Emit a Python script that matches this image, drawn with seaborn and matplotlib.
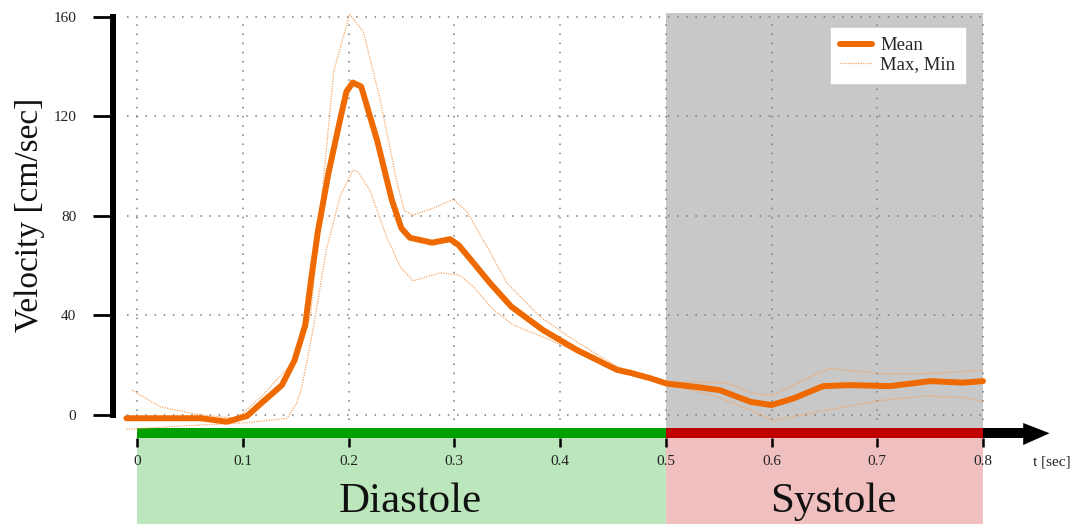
import matplotlib
matplotlib.use("Agg")
import matplotlib.pyplot as plt
import seaborn as sns

sns.set_style("white")
plt.rcParams["font.family"] = ["Liberation Serif", "DejaVu Serif"]

# ---- data -------------------------------------------------------------
t_mean = [-0.01, 0.06, 0.085, 0.104, 0.119, 0.137, 0.149, 0.159, 0.165, 0.171,
          0.181, 0.192, 0.198, 0.204, 0.212, 0.227, 0.241, 0.250, 0.258, 0.279,
          0.296, 0.304, 0.316, 0.334, 0.354, 0.384, 0.416, 0.454, 0.466, 0.485,
          0.501, 0.532, 0.551, 0.580, 0.600, 0.621, 0.649, 0.674, 0.712, 0.750,
          0.781, 0.800]
v_mean = [-1.3, -1.3, -2.7, -0.4, 5.3, 12.0, 22.0, 36.0, 55.5, 73.6,
          97.0, 118.5, 129.8, 133.5, 131.9, 110.4, 86.3, 75.0, 71.2, 69.2,
          70.6, 68.3, 62.2, 52.9, 43.5, 34.1, 26.1, 18.1, 17.0, 14.8,
          12.6, 11.1, 10.0, 5.3, 4.0, 6.7, 11.6, 12.0, 11.6, 13.6,
          13.0, 13.6]

t_max = [-0.005, 0.022, 0.06, 0.094, 0.10, 0.119, 0.151, 0.164, 0.173, 0.186,
         0.201, 0.214, 0.230, 0.246, 0.253, 0.261, 0.280, 0.299, 0.312, 0.331,
         0.350, 0.381, 0.413, 0.454, 0.501, 0.558, 0.580, 0.600, 0.627, 0.655,
         0.706, 0.753, 0.800]
v_max = [10.0, 3.3, 0.0, -1.3, 0.7, 8.0, 22.8, 39.5, 79.6, 137.9,
         161.0, 154.0, 126.5, 93.0, 82.0, 80.3, 83.0, 86.6, 81.7, 67.6,
         52.9, 39.5, 30.1, 19.4, 13.2, 13.0, 9.0, 7.8, 13.4, 18.7,
         16.5, 16.7, 18.0]

t_min = [-0.01, 0.06, 0.104, 0.142, 0.151, 0.156, 0.167, 0.179, 0.192, 0.204,
         0.209, 0.220, 0.236, 0.249, 0.261, 0.287, 0.305, 0.318, 0.337, 0.356,
         0.391, 0.425, 0.460, 0.501, 0.548, 0.580, 0.602, 0.643, 0.706, 0.744,
         0.781, 0.800]
v_min = [-5.7, -4.0, -3.1, -1.3, 4.7, 11.4, 35.5, 66.3, 87.7, 98.4,
         97.7, 90.4, 71.6, 59.5, 53.9, 57.1, 56.2, 51.5, 42.2, 36.1,
         30.1, 23.4, 16.7, 12.5, 7.4, 2.0, -2.3, 1.3, 6.0, 7.6,
         7.1, 5.3]

x_ticks = [0, 0.1, 0.2, 0.3, 0.4, 0.5, 0.6, 0.7, 0.8]
x_tick_labels = ["0", "0.1", "0.2", "0.3", "0.4", "0.5", "0.6", "0.7", "0.8"]
y_ticks = [0, 40, 80, 120, 160]

phase_names = ["Diastole", "Systole"]
phase_start = [0.0, 0.5]
phase_end = [0.5, 0.8]

# ---- styling ----------------------------------------------------------
ORANGE = "#ee6a00"
ORANGE_LIGHT = "#f5a565"
GRID = "#7a7a7a"
BAR_COLORS = ["#00a000", "#c00000"]
BAND_COLORS = ["#bce6bc", "#f0c0c0"]
SHADE = "#c8c8c8"

W, H = 1075, 524
fig = plt.figure(figsize=(W / 100, H / 100), dpi=100)
ax = fig.add_axes([113 / W, 0, (W - 113) / W, 1])

# scale: t=0 at x=137 px, 1057.5 px per second; v=0 at y=415 px, 2.49 px per unit
px_t, x0_px = 1057.5, 137
px_v, y0_px = 2.49, 415
ax.set_xlim((113 - x0_px) / px_t, (W - x0_px) / px_t)
ax.set_ylim((y0_px - H) / px_v, y0_px / px_v)

bar_hi = (y0_px - 428.5) / px_v
bar_lo = (y0_px - 438) / px_v
bottom = (y0_px - H) / px_v

# systole shading
ax.fill_between([phase_start[1], phase_end[1]], bar_hi, 161.5,
                color=SHADE, lw=0, zorder=0)

# dotted grid
ax.hlines(y_ticks, -0.009, 0.803, colors=GRID, linestyles=(0, (1, 5)),
          lw=1.1, zorder=1)
ax.vlines(x_ticks, -2, 160, colors=GRID, linestyles=(0, (1, 5)),
          lw=1.1, zorder=1)

# velocity curves
sns.lineplot(x=t_max, y=v_max, ax=ax, color=ORANGE_LIGHT, lw=0.9,
             linestyle=(0, (1, 1)), label="Max, Min", zorder=3)
sns.lineplot(x=t_min, y=v_min, ax=ax, color=ORANGE_LIGHT, lw=0.9,
             linestyle=(0, (1, 1)), label="_nolegend_", zorder=3)
sns.lineplot(x=t_mean, y=v_mean, ax=ax, color=ORANGE, lw=4.3,
             label="Mean", zorder=4)

# phase bars, bands and names under the time axis
for name, s, e, bc, fc in zip(phase_names, phase_start, phase_end,
                              BAR_COLORS, BAND_COLORS):
    ax.fill_between([s, e], bar_lo, bar_hi, color=bc, lw=0, zorder=2,
                    clip_on=False)
    ax.fill_between([s, e], bottom, bar_lo, color=fc, lw=0, zorder=0,
                    clip_on=False)
    ax.text((s + e) / 2 + 0.008, (y0_px - 512) / px_v, name, fontsize=31,
            ha="center", va="baseline", color="#111111")

# arrow continuing the time axis
ax.fill_between([0.8, 0.84], bar_lo, bar_hi, color="black", lw=0, zorder=2)
ax.fill([0.838, 0.863, 0.838],
        [(y0_px - 423) / px_v, (bar_lo + bar_hi) / 2, (y0_px - 445) / px_v],
        color="black", lw=0, zorder=2)
ax.text((1033 - x0_px) / px_t, (y0_px - 462) / px_v, "t [sec]",
        fontsize=11, ha="left", va="center", color="#222222")

# axes
for side in ["top", "right"]:
    ax.spines[side].set_visible(False)
ax.spines["bottom"].set_position(("data", bar_lo))
ax.spines["bottom"].set_visible(False)
ax.spines["left"].set_bounds(0, 160)
ax.spines["left"].set_linewidth(4.3)
ax.spines["left"].set_color("black")

ax.set_xticks(x_ticks)
ax.set_xticklabels(x_tick_labels)
ax.set_yticks(y_ticks)
ax.tick_params(axis="x", direction="out", length=6.5, width=1.8, pad=5.5,
               labelsize=11, colors="black", labelcolor="#222222", bottom=True)
ax.tick_params(axis="y", direction="out", length=14.4, width=2.0, pad=12,
               labelsize=11, colors="black", labelcolor="#222222", left=True)

ax.set_xlabel("")
ax.set_ylabel("Velocity [cm/sec]", fontsize=24, color="#111111", va="center")
ax.yaxis.set_label_coords((30 - 113) / (W - 113), 1 - 215 / H)

handles, labels = ax.get_legend_handles_labels()
order = [labels.index("Mean"), labels.index("Max, Min")]
ax.legend([handles[i] for i in order], [labels[i] for i in order],
          loc="upper right", bbox_to_anchor=(965 / W, 1 - 28 / H),
          bbox_transform=fig.transFigure, frameon=True, fancybox=False,
          framealpha=1, facecolor="white", edgecolor="white", fontsize=13.5,
          handlelength=1.7, handletextpad=0.45, borderaxespad=0,
          borderpad=0.5, labelspacing=0.1)

fig.savefig("out.png", dpi=100)
